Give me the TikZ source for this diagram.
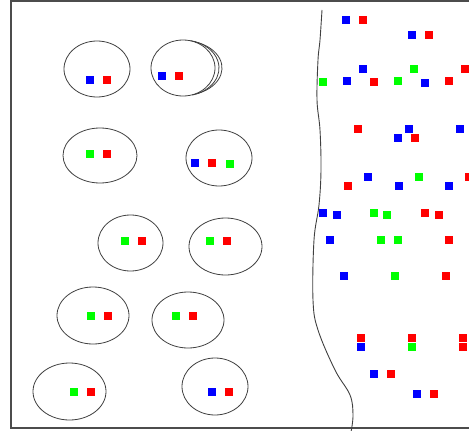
\documentclass[tikz,border=0pt]{standalone}
\begin{document}
\begin{tikzpicture}[x=1pt,y=-1pt,
  sq/.style={minimum size=8pt,inner sep=0pt,outer sep=0pt,draw=none},
  bsq/.style={sq,fill={rgb,255:red,0;green,0;blue,255}},
  rsq/.style={sq,fill={rgb,255:red,255;green,0;blue,0}},
  gsq/.style={sq,fill={rgb,255:red,0;green,255;blue,0}},
  cell/.style={draw=black!75,line width=0.8pt},
  frame/.style={draw=black!70,line width=1.1pt},
  wall/.style={draw=black!75,line width=0.9pt}]
\useasboundingbox (0,0) rectangle (469,431);
\clip (0,0) rectangle (469,431);
% frame
\draw[frame] (470,1) -- (11,1) -- (11,428) -- (470,428);
% cells (ellipses)
\draw[cell] (97,69) ellipse [x radius=33pt,y radius=28pt];
\draw[cell] (183,68) ellipse [x radius=32pt,y radius=28pt];
\draw[cell] (183,68) ++(-75:36pt and 28pt) arc [start angle=-75,end angle=78,x radius=36pt,y radius=28pt];
\draw[cell] (183,68) ++(-70:39pt and 27.5pt) arc [start angle=-70,end angle=72,x radius=39pt,y radius=27.5pt];
\draw[cell] (100,155.5) ellipse [x radius=37pt,y radius=27.5pt];
\draw[cell] (219,158) ellipse [x radius=33pt,y radius=28pt];
\draw[cell] (130.5,243) ellipse [x radius=32.5pt,y radius=28pt];
\draw[cell] (225.5,246.5) ellipse [x radius=36.5pt,y radius=28.5pt];
\draw[cell] (93,315.5) ellipse [x radius=36pt,y radius=28.5pt];
\draw[cell] (188,320) ellipse [x radius=36pt,y radius=28pt];
\draw[cell] (69.5,391.5) ellipse [x radius=36.5pt,y radius=28.5pt];
\draw[cell] (215,386.5) ellipse [x radius=33pt,y radius=28.5pt];
% squares inside cells
\node[bsq] (c1b) at (90,79.5) {};
\node[rsq] (c1r) at (107,79.5) {};
\node[bsq] (c2b) at (161.5,76) {};
\node[rsq] (c2r) at (178.5,76) {};
\node[gsq] (c3g) at (90,154) {};
\node[rsq] (c3r) at (107,154) {};
\node[bsq] (c4b) at (195,162.5) {};
\node[rsq] (c4r) at (211.5,162.5) {};
\node[gsq] (c4g) at (230,163.5) {};
\node[gsq] (c5g) at (125,240.5) {};
\node[rsq] (c5r) at (142,240.5) {};
\node[gsq] (c6g) at (210,240.5) {};
\node[rsq] (c6r) at (227,240.5) {};
\node[gsq] (c7g) at (91,315.5) {};
\node[rsq] (c7r) at (108,315.5) {};
\node[gsq] (c8g) at (176,315.5) {};
\node[rsq] (c8r) at (193,315.5) {};
\node[gsq] (c9g) at (74,392) {};
\node[rsq] (c9r) at (91,392) {};
\node[bsq] (c10b) at (211.5,392) {};
\node[rsq] (c10r) at (228.5,392) {};
% wall
\draw[wall] plot[smooth,tension=0.6] coordinates {(322,10) (320,40) (318,60) (317,100) (320,130) (321,170) (319,205) (314,240) (313,300) (318,330) (335,370) (350,395) (353,415) (351,432)};
% free squares on the right
\foreach \x/\y [count=\i] in {345.5/19.5, 411.5/35, 362.5/69, 346.5/80.5, 425/82.5, 408.5/129, 460/129, 397.5/138, 367.5/177, 398.5/186, 448.5/186, 322.5/212.5, 336.5/215, 329.5/240, 343.5/275.5, 361/347, 374/374, 416.5/394}
  \node[bsq] (fb\i) at (\x,\y) {};
\foreach \x/\y [count=\i] in {362.5/19.5, 428.5/35, 464.5/69, 374/82, 448.5/80.5, 357.5/129, 414.5/138, 469/177, 347.5/186, 425/212.5, 438.5/215, 448.5/240, 445.5/275.5, 361/338, 411.5/338, 462.5/338, 462.5/347, 391/374, 433.5/394}
  \node[rsq] (fr\i) at (\x,\y) {};
\foreach \x/\y [count=\i] in {413.5/69, 322.5/82, 397.5/80.5, 418.5/177, 374/212.5, 386.5/215, 380.5/240, 397.5/240, 394.5/275.5, 411.5/347}
  \node[gsq] (fg\i) at (\x,\y) {};
\end{tikzpicture}
\end{document}
